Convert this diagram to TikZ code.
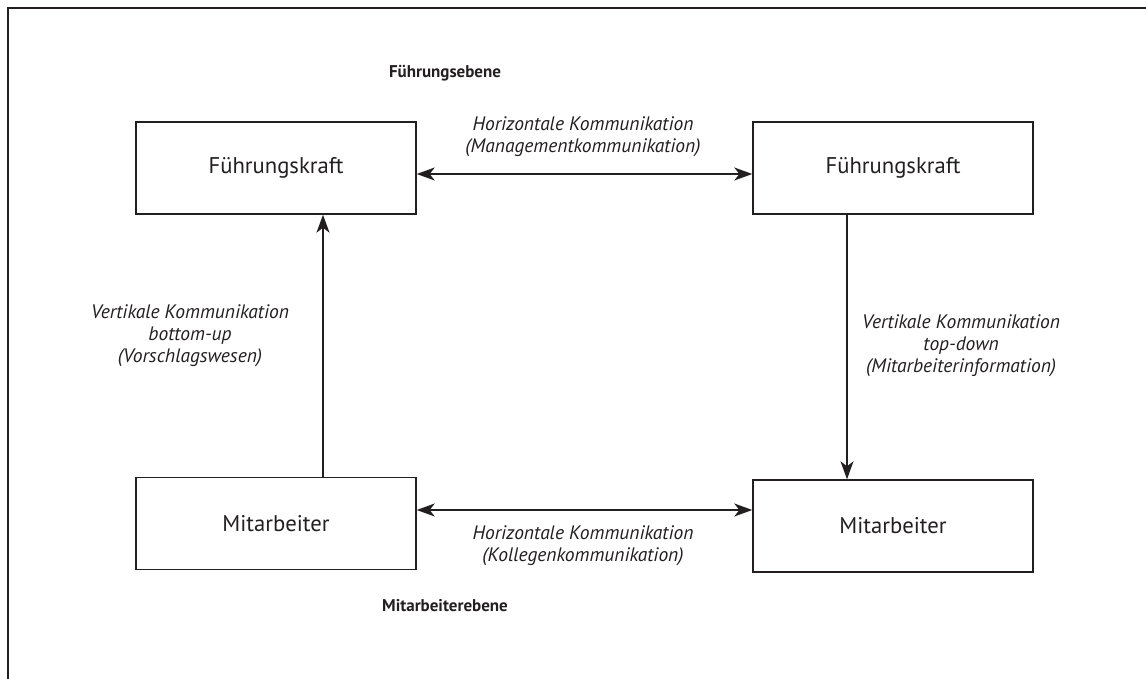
\documentclass[tikz,border=0pt]{standalone}
\usepackage{fontspec}
\setmainfont{PT Sans}
\usetikzlibrary{arrows.meta}
\definecolor{ink}{HTML}{231F20}
\tikzset{
  box/.style={draw=ink, line width=1.4pt, minimum width=280pt, minimum height=92pt, inner sep=0pt, text=ink, font=\fontsize{22.7}{26}\selectfont},
  conn/.style={draw=ink, line width=1.3pt, -{Stealth[length=18pt,width=13pt,inset=5pt]}},
  conn2/.style={draw=ink, line width=1.3pt, {Stealth[length=18pt,width=13pt,inset=5pt]}-{Stealth[length=18pt,width=13pt,inset=5pt]}},
  lbl/.style={text=ink, align=center, font=\itshape\fontsize{19.5}{22}\selectfont, inner sep=0pt},
  level/.style={text=ink, font=\bfseries\fontsize{17}{19}\selectfont, inner sep=0pt}
}
\begin{document}
\begin{tikzpicture}[x=1pt,y=-1pt]
\useasboundingbox (0,0) rectangle (1146,679);
\draw[ink, line width=1.5pt] (8,679) -- (8,8) -- (1146,8);
\node[level] (fe) at (445,73) {Führungsebene};
\node[level] (me) at (445,606) {Mitarbeiterebene};
\node[box] (tl) at (276,168) {Führungskraft};
\node[box] (tr) at (893,168) {Führungskraft};
\node[box] (bl) at (276,523.5) {Mitarbeiter};
\node[box] (br) at (893,526) {Mitarbeiter};
\draw[conn2] ([yshift=-6pt]tl.east) -- ([yshift=-6pt]tr.west);
\draw[conn2] ([yshift=13.5pt]bl.east) -- ([yshift=13.5pt]bl.east -| br.west);
\draw[conn] ([xshift=47pt]bl.north) -- ([xshift=47pt]bl.north |- tl.south);
\draw[conn] ([xshift=-46pt]tr.south) -- ([xshift=-46pt]tr.south |- br.north);
\node[lbl] (lt) at (583,137) {Horizontale Kommunikation\\(Managementkommunikation)};
\node[lbl] (lb) at (583,546) {Horizontale Kommunikation\\(Kollegenkommunikation)};
\node[lbl] (ll) at (190,336) {Vertikale Kommunikation\\bottom-up\\(Vorschlagswesen)};
\node[lbl, anchor=west] (lr) at (862,346) {Vertikale Kommunikation\\top-down\\(Mitarbeiterinformation)};
\end{tikzpicture}
\end{document}
